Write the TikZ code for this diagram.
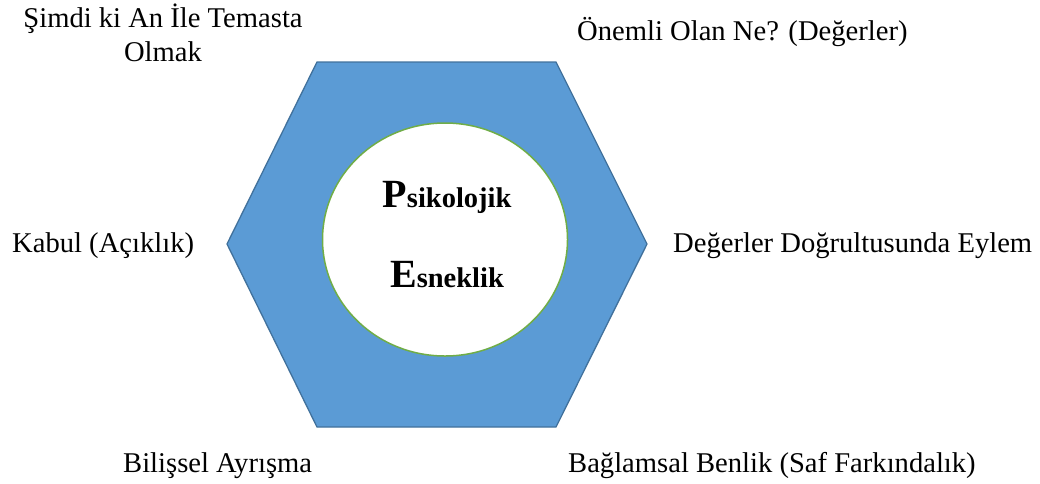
\documentclass[tikz,border=0pt]{standalone}
\usepackage{fontspec}
\setmainfont{Liberation Serif}
\usetikzlibrary{shapes.geometric}
\definecolor{hexfill}{HTML}{5B9BD5}
\definecolor{hexline}{HTML}{41719C}
\definecolor{ringline}{HTML}{70AD47}
\begin{document}
\begin{tikzpicture}[x=1pt,y=-1pt,
  lbl/.style={inner sep=0pt, font=\fontsize{28.6}{34}\selectfont, text=black},
  core/.style={inner sep=0pt, anchor=base, text=black, font=\bfseries}]
\useasboundingbox (0,0) rectangle (1040,483);
\coordinate (h1) at (317,62);
\coordinate (h2) at (556,62);
\coordinate (h3) at (647,244);
\coordinate (h4) at (556,427);
\coordinate (h5) at (317,427);
\coordinate (h6) at (227,244);
\draw[fill=hexfill, draw=hexline, line width=1.3pt, line join=miter]
  (h1) -- (h2) -- (h3) -- (h4) -- (h5) -- (h6) -- cycle;
\node[ellipse, draw=ringline, fill=white, line width=1.5pt,
  minimum width=245pt, minimum height=233pt, inner sep=0pt] (ring) at (445,239.5) {};
\node[core] (psy) at (447,207)
  {\fontsize{40}{40}\selectfont P\fontsize{28.5}{28.5}\selectfont sikolojik};
\node[core] (flex) at (447,287)
  {\fontsize{40}{40}\selectfont E\fontsize{28.5}{28.5}\selectfont sneklik};
\node[lbl, anchor=base, align=center] (now) at (163,61) {Şimdi ki An İle Temasta\\Olmak};
\node[lbl, anchor=base west] (values) at (577,40) {Önemli Olan Ne? (Değerler)};
\node[lbl, anchor=base west] (accept) at (12,252) {Kabul (Açıklık)};
\node[lbl, anchor=base west] (action) at (673,252) {Değerler Doğrultusunda Eylem};
\node[lbl, anchor=base west] (defusion) at (123,472) {Bilişsel Ayrışma};
\node[lbl, anchor=base west] (self) at (568,472) {Bağlamsal Benlik (Saf Farkındalık)};
\end{tikzpicture}
\end{document}
